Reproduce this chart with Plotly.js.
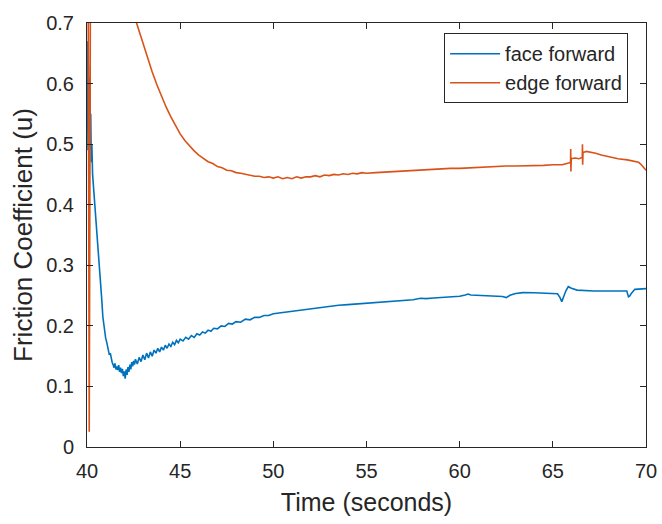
<!DOCTYPE html>
<html>
<head>
<meta charset="utf-8">
<script src="https://cdn.plot.ly/plotly-3.0.1.min.js"></script>
<style>html,body{margin:0;padding:0;background:#fff;}#chart{width:662px;height:524px;}</style>
</head>
<body>
<div id="chart"></div>
<script>
const faceTime = [40.00,40.02,40.04,40.06,40.08,40.10,40.12,40.14,40.16,40.18,40.20,40.23,40.26,40.30,40.35,40.40,40.45,40.50,40.55,40.60,40.65,40.70,40.75,40.80,40.85,40.90,40.95,41.00,41.05,41.10,41.15,41.20,41.25,41.30,41.35,41.40,41.45,41.50,41.55,41.60,41.65,41.70,41.75,41.80,41.85,41.90,41.95,42.00,42.05,42.10,42.15,42.20,42.25,42.30,42.35,42.40,42.45,42.50,42.55,42.60,42.70,42.80,42.90,43.00,43.10,43.20,43.30,43.40,43.50,43.60,43.70,43.80,43.90,44.00,44.10,44.20,44.30,44.40,44.50,44.60,44.70,44.80,44.90,45.00,45.15,45.30,45.45,45.60,45.75,45.90,46.05,46.20,46.35,46.50,46.65,46.80,47.00,47.20,47.40,47.60,47.80,48.00,48.25,48.50,48.75,49.00,49.25,49.50,49.75,50.00,50.50,51.00,51.50,52.00,52.50,53.00,53.50,54.00,54.50,55.00,55.50,56.00,56.50,57.00,57.50,57.90,58.20,58.60,59.00,59.50,60.00,60.30,60.45,60.60,61.00,61.50,62.00,62.30,62.50,62.70,63.00,63.40,64.00,64.50,65.00,65.25,65.38,65.48,65.58,65.70,65.83,66.00,66.30,66.70,67.20,68.00,68.50,68.97,69.02,69.06,69.12,69.20,69.40,69.70,70.00];
const faceMu = [0.49,0.60,0.67,0.55,0.63,0.50,0.58,0.53,0.61,0.49,0.55,0.47,0.50,0.45,0.43,0.41,0.39,0.375,0.35,0.335,0.315,0.29,0.265,0.24,0.215,0.2,0.19,0.18,0.174,0.168,0.16,0.152,0.155,0.145,0.14,0.136,0.131,0.138,0.128,0.133,0.127,0.135,0.124,0.131,0.122,0.129,0.117,0.125,0.113,0.128,0.119,0.132,0.124,0.136,0.128,0.14,0.133,0.142,0.136,0.145,0.137,0.148,0.141,0.152,0.144,0.155,0.147,0.157,0.15,0.16,0.155,0.163,0.157,0.165,0.16,0.168,0.163,0.17,0.166,0.173,0.169,0.176,0.172,0.178,0.175,0.181,0.178,0.184,0.181,0.187,0.185,0.19,0.188,0.193,0.191,0.196,0.195,0.2,0.199,0.204,0.203,0.207,0.206,0.211,0.21,0.214,0.214,0.217,0.217,0.22,0.222,0.225,0.227,0.229,0.231,0.232,0.234,0.235,0.236,0.237,0.238,0.239,0.24,0.242,0.243,0.2455,0.245,0.246,0.247,0.248,0.249,0.251,0.2526,0.251,0.2505,0.2502,0.2498,0.2485,0.2466,0.2505,0.2535,0.2548,0.2546,0.2544,0.2535,0.253,0.247,0.24,0.248,0.258,0.2647,0.262,0.259,0.258,0.2576,0.2576,0.2578,0.2576,0.252,0.248,0.249,0.253,0.2603,0.2608,0.2614];

const edgeTime = [40.05,40.12,40.20,41.00,42.00,42.40,42.66,42.80,43.00,43.25,43.50,43.75,44.00,44.25,44.50,44.75,45.00,45.25,45.50,45.75,46.00,46.25,46.50,46.75,47.00,47.25,47.50,47.75,48.00,48.25,48.50,48.75,49.00,49.25,49.50,49.75,50.00,50.25,50.50,50.75,51.00,51.25,51.50,51.75,52.00,52.25,52.50,52.75,53.00,53.25,53.50,53.75,54.00,54.25,54.50,54.75,55.00,55.50,56.00,56.50,57.00,57.50,58.00,58.50,59.00,59.50,60.00,60.50,61.00,61.50,62.00,62.50,63.00,63.50,64.00,64.50,65.00,65.50,65.85,65.95,65.96,65.97,65.99,66.20,66.40,66.58,66.59,66.60,66.62,66.80,67.00,67.30,67.60,68.00,68.50,69.00,69.40,69.60,69.75,69.90,70.00];
const edgeMu = [0.95,0.025,0.95,0.88,0.76,0.725,0.70,0.687,0.666,0.641,0.619,0.598,0.579,0.561,0.545,0.53,0.517,0.506,0.497,0.489,0.482,0.477,0.471,0.468,0.463,0.461,0.457,0.456,0.453,0.452,0.45,0.449,0.447,0.447,0.445,0.446,0.444,0.446,0.443,0.445,0.443,0.446,0.444,0.446,0.446,0.448,0.446,0.449,0.448,0.45,0.449,0.451,0.45,0.452,0.451,0.453,0.452,0.453,0.454,0.455,0.456,0.456,0.457,0.458,0.459,0.46,0.46,0.461,0.462,0.463,0.463,0.464,0.464,0.464,0.465,0.465,0.466,0.466,0.469,0.47,0.492,0.455,0.476,0.477,0.476,0.478,0.50,0.466,0.486,0.488,0.487,0.485,0.482,0.479,0.476,0.474,0.472,0.47,0.466,0.46,0.457];

const seriesNames = ['face forward','edge forward'];
const xTicks = [40,45,50,55,60,65,70];
const yTicks = [0,0.1,0.2,0.3,0.4,0.5,0.6,0.7];

const FONT = 'Liberation Sans, Arial, Helvetica, sans-serif';
const AX = '#262626';

const traces = [
  {x: faceTime, y: faceMu, name: seriesNames[0], type: 'scatter', mode: 'lines',
   line: {color: '#0072BD', width: 1.6}},
  {x: edgeTime, y: edgeMu, name: seriesNames[1], type: 'scatter', mode: 'lines',
   line: {color: '#D95319', width: 1.6}}
];

const axisCommon = {
  showgrid: false, zeroline: false, showline: true, linecolor: AX, linewidth: 1,
  mirror: 'ticks', ticks: 'inside', ticklen: 6, tickcolor: AX, tickwidth: 1,
  tickfont: {family: FONT, size: 20, color: AX}
};

const layout = {
  width: 662, height: 524,
  margin: {l: 87, r: 16, t: 23, b: 77},
  paper_bgcolor: '#fff', plot_bgcolor: '#fff',
  font: {family: FONT, color: AX},
  showlegend: true,
  xaxis: Object.assign({}, axisCommon, {
    range: [40, 70], tickvals: xTicks, ticktext: xTicks.map(String),
    ticklabelstandoff: 6,
    title: {text: 'Time (seconds)', font: {family: FONT, size: 25, color: AX}, standoff: 12}
  }),
  yaxis: Object.assign({}, axisCommon, {
    range: [0, 0.7], tickvals: yTicks, ticktext: yTicks.map(String),
    ticklabelstandoff: 8,
    title: {text: 'Friction Coefficient (u)', font: {family: FONT, size: 26, color: AX}, standoff: 6}
  }),
  legend: {
    x: 0.968, y: 0.976, xanchor: 'right', yanchor: 'top',
    bgcolor: '#fff', bordercolor: AX, borderwidth: 1,
    font: {family: FONT, size: 20, color: AX},
    itemwidth: 50,
    tracegroupgap: 0
  }
};

Plotly.newPlot('chart', traces, layout, {displayModeBar: false, staticPlot: true});
</script>
</body>
</html>
